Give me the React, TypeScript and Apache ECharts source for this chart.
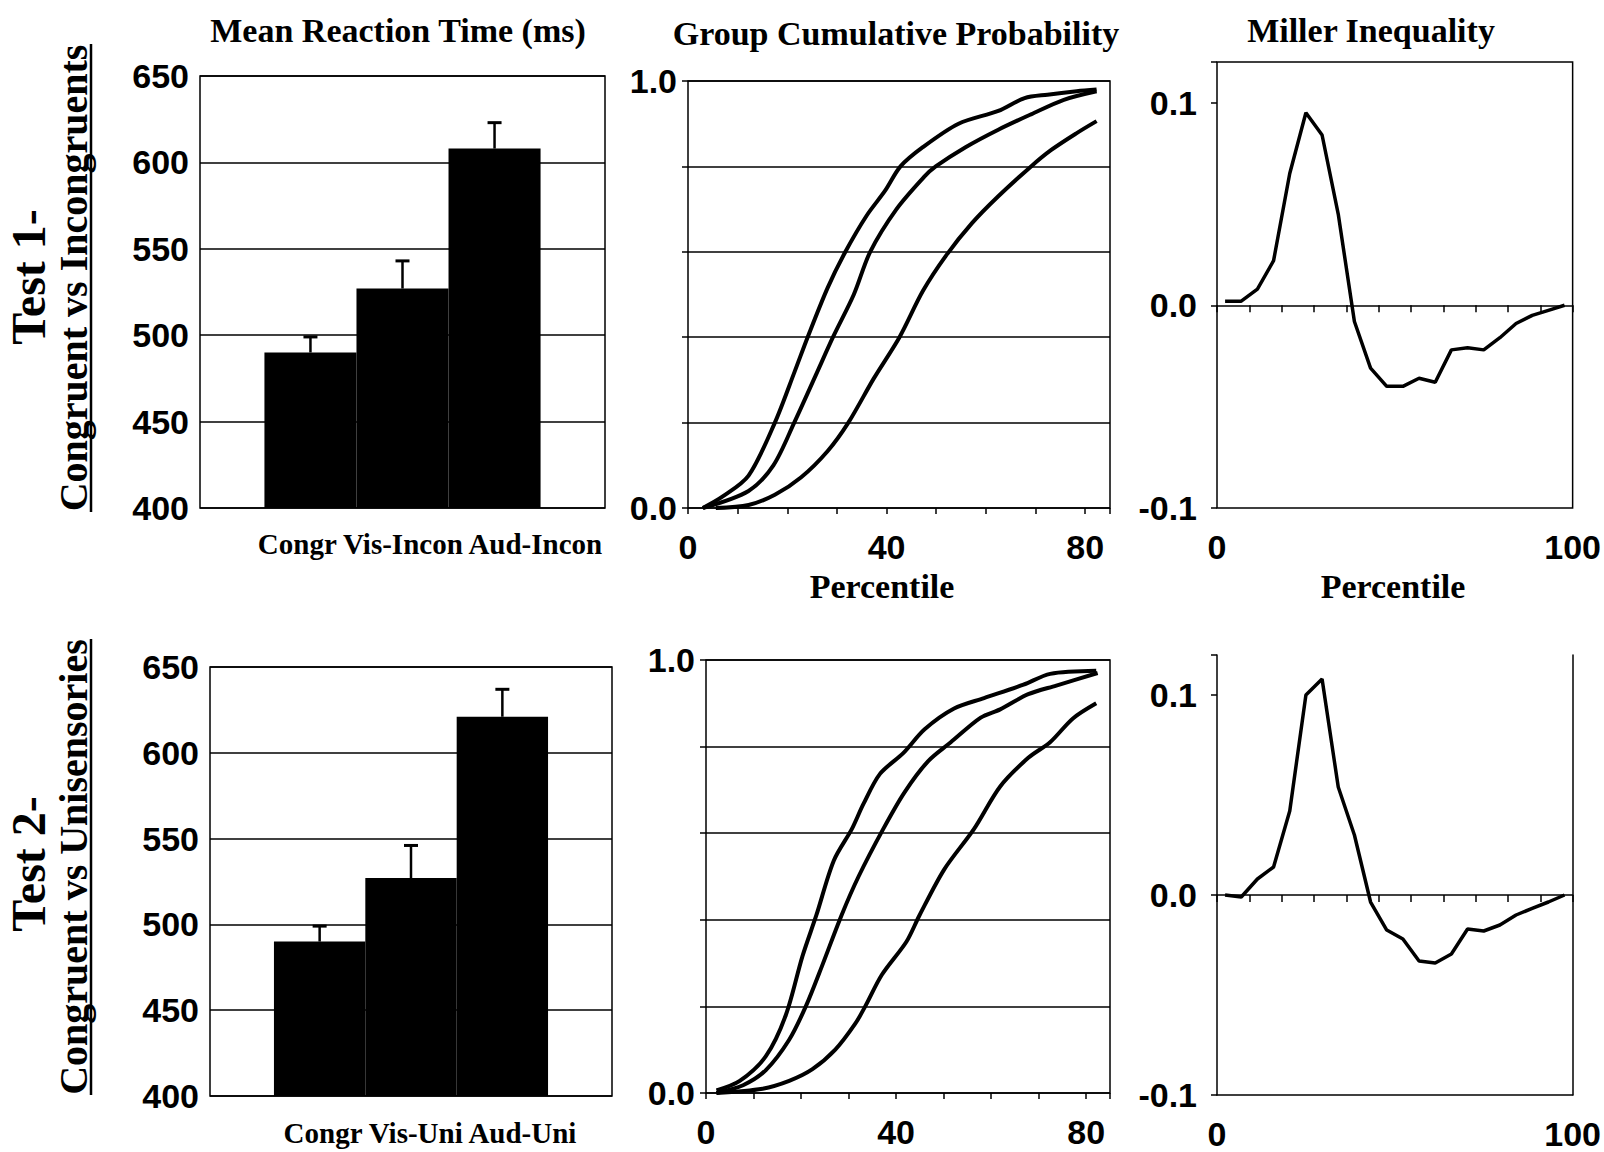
import React, { useEffect, useRef } from 'react';
import * as echarts from 'echarts';

// ---------------- data ----------------
const rtCategoriesTest1 = ['Congr', 'Vis-Incon', 'Aud-Incon'];
const rtMeansTest1 = [490, 527, 608];
const rtErrorTopTest1 = [499, 543, 623];

const rtCategoriesTest2 = ['Congr', 'Vis-Uni', 'Aud-Uni'];
const rtMeansTest2 = [490, 527, 621];
const rtErrorTopTest2 = [499, 546, 637];

const rtAxisTicks = [400, 450, 500, 550, 600, 650];

// group cumulative probability curves: [percentile, probability]
const cdfTest1Congr = [[3, 0], [7, 0.027], [12.2, 0.076], [17.5, 0.2], [21.5, 0.32], [24.1, 0.4], [28.1, 0.515], [31.7, 0.6], [36, 0.685], [39.7, 0.743], [42.8, 0.8], [47.3, 0.845], [54.5, 0.9], [62.5, 0.93], [67.8, 0.96], [72.4, 0.968], [78.3, 0.976], [82.3, 0.98]];
const cdfTest1Vis = [[3, 0], [12.2, 0.04], [17.2, 0.1], [21.4, 0.2], [25.7, 0.31], [29.2, 0.4], [33.4, 0.5], [36.7, 0.6], [42, 0.7], [47.6, 0.776], [49.9, 0.8], [55.9, 0.845], [62.5, 0.886], [69.1, 0.922], [75.7, 0.956], [82.3, 0.976]];
const cdfTest1Aud = [[5.6, 0], [12.2, 0.007], [17.5, 0.031], [22.8, 0.072], [28.1, 0.133], [32.3, 0.2], [37.4, 0.303], [42.6, 0.4], [47.3, 0.508], [51.9, 0.59], [57.2, 0.667], [62.5, 0.73], [69.1, 0.8], [73.1, 0.838], [78.3, 0.878], [82.3, 0.906]];

const cdfTest2Congr = [[2.2, 0.006], [7.1, 0.028], [12.6, 0.085], [16.8, 0.18], [20.3, 0.316], [23.2, 0.41], [26.9, 0.537], [30.7, 0.61], [33.1, 0.667], [36.6, 0.737], [41.5, 0.785], [46, 0.84], [52.2, 0.888], [58.5, 0.912], [66.8, 0.943], [72.4, 0.968], [82.1, 0.975]];
const cdfTest2Vis = [[2.2, 0], [7.8, 0.018], [12.6, 0.053], [17.5, 0.123], [21, 0.2], [24.4, 0.293], [28.5, 0.41], [32.1, 0.5], [37.3, 0.61], [41.8, 0.695], [46.7, 0.766], [51.5, 0.81], [57.8, 0.867], [61.9, 0.886], [67.8, 0.921], [73.7, 0.941], [82.4, 0.97]];
const cdfTest2Aud = [[2.2, 0], [11.9, 0.01], [17.5, 0.028], [22.4, 0.055], [27.2, 0.1], [31.4, 0.16], [33.5, 0.2], [37, 0.273], [42.2, 0.35], [44.9, 0.41], [50.1, 0.516], [56.4, 0.61], [61.9, 0.708], [67.8, 0.774], [72.4, 0.81], [77.2, 0.865], [82.1, 0.9]];

const cdfXTickLabels = [0, 40, 80];

// Miller inequality, 22 percentile bins
const millerTest1 = [0.002, 0.002, 0.008, 0.022, 0.065, 0.095, 0.084, 0.045, -0.008, -0.031, -0.04, -0.04, -0.036, -0.038, -0.022, -0.021, -0.022, -0.016, -0.009, -0.005, -0.0025, 0];
const millerTest2 = [0, -0.001, 0.008, 0.014, 0.042, 0.1, 0.108, 0.054, 0.03, -0.0035, -0.0175, -0.022, -0.033, -0.034, -0.0295, -0.017, -0.018, -0.015, -0.01, -0.0067, -0.0035, 0];
const millerXTickLabels = ['0', '100'];

// ---------------- styling ----------------
const SANS = 'Liberation Sans';
const SERIF = 'Liberation Serif';
const BLACK = '#000';
const tickFont = { fontFamily: SANS, fontWeight: 'bold' as const, fontSize: 34, color: BLACK };
const thin = { color: BLACK, width: 1.5 };

const layout = {
  bar1: { left: 200, top: 76, width: 405, height: 432 },
  cdf1: { left: 688, top: 81, width: 422, height: 427 },
  mil1: { left: 1217, top: 62, width: 366, height: 446 },
  bar2: { left: 210, top: 667, width: 402, height: 429 },
  cdf2: { left: 706, top: 660, width: 404, height: 433 },
  mil2: { left: 1217, top: 655, width: 364, height: 440 },
};

function textEl(text: string, x: number, y: number, size: number, family = SERIF, rotation = 0) {
  return {
    type: 'text',
    x,
    y,
    rotation,
    silent: true,
    style: {
      text,
      fontFamily: family,
      fontWeight: 'bold',
      fontSize: size,
      fill: BLACK,
      align: 'center',
      verticalAlign: 'middle',
      textAlign: 'center',
      textVerticalAlign: 'middle',
    },
  };
}

function lineEl(x1: number, y1: number, x2: number, y2: number, w: number) {
  return { type: 'line', silent: true, shape: { x1, y1, x2, y2 }, style: { stroke: BLACK, lineWidth: w } };
}

function buildOption() {
  const grid: any[] = [];
  const xAxis: any[] = [];
  const yAxis: any[] = [];
  const series: any[] = [];
  const graphic: any[] = [];

  const addGrid = (box: any, border: boolean) => {
    grid.push({ ...box, show: border, borderColor: BLACK, borderWidth: 1.5, backgroundColor: 'transparent' });
    return grid.length - 1;
  };

  const addBarPanel = (box: any, names: string[], means: number[], tops: number[]) => {
    const g = addGrid(box, true);
    const xi = xAxis.length;
    xAxis.push({ gridIndex: g, type: 'value', min: -0.2, max: 4.2, show: false });
    const yi = yAxis.length;
    yAxis.push({
      gridIndex: g,
      type: 'value',
      min: rtAxisTicks[0],
      max: rtAxisTicks[rtAxisTicks.length - 1],
      interval: rtAxisTicks[1] - rtAxisTicks[0],
      axisLine: { show: false, onZero: false },
      axisTick: { show: false },
      axisLabel: { ...tickFont, margin: 11 },
      splitLine: { show: true, lineStyle: thin },
    });
    series.push({
      type: 'bar',
      xAxisIndex: xi,
      yAxisIndex: yi,
      silent: true,
      barWidth: box.width / 4.4,
      itemStyle: { color: BLACK },
      data: means.map((v, i) => ({ name: names[i], value: [i + 1, v] })),
    });
    series.push({
      type: 'custom',
      xAxisIndex: xi,
      yAxisIndex: yi,
      silent: true,
      z: 5,
      data: means.map((v, i) => [i + 1, v, tops[i]]),
      renderItem: (_p: any, api: any) => {
        const x = api.value(0);
        const p0 = api.coord([x, api.value(1)]);
        const p1 = api.coord([x, api.value(2)]);
        return {
          type: 'group',
          children: [
            { type: 'line', shape: { x1: p0[0], y1: p0[1], x2: p1[0], y2: p1[1] }, style: { stroke: BLACK, lineWidth: 2.5 } },
            { type: 'line', shape: { x1: p1[0] - 7, y1: p1[1], x2: p1[0] + 7, y2: p1[1] }, style: { stroke: BLACK, lineWidth: 3 } },
          ],
        };
      },
    });
  };

  const addCdfPanel = (box: any, curves: number[][][]) => {
    const g = addGrid(box, true);
    const xi = xAxis.length;
    xAxis.push({
      gridIndex: g,
      type: 'value',
      min: 0,
      max: 85,
      interval: 10,
      axisLine: { show: false, onZero: false },
      axisTick: { show: true, length: 6, lineStyle: thin },
      axisLabel: { ...tickFont, margin: 22, formatter: (v: number) => (cdfXTickLabels.indexOf(v) >= 0 ? String(v) : '') },
      splitLine: { show: false },
    });
    const yi = yAxis.length;
    yAxis.push({
      gridIndex: g,
      type: 'value',
      min: 0,
      max: 1,
      interval: 0.2,
      axisLine: { show: false, onZero: false },
      axisTick: { show: true, length: 6, lineStyle: thin },
      axisLabel: {
        ...tickFont,
        margin: 11,
        formatter: (v: number) => (Math.abs(v) < 1e-9 || Math.abs(v - 1) < 1e-9 ? v.toFixed(1) : ''),
      },
      splitLine: { show: true, lineStyle: thin },
    });
    curves.forEach((c) => {
      series.push({
        type: 'line',
        xAxisIndex: xi,
        yAxisIndex: yi,
        silent: true,
        showSymbol: false,
        symbol: 'none',
        smooth: 0.3,
        lineStyle: { color: BLACK, width: 4 },
        data: c,
      });
    });
  };

  const addMillerPanel = (box: any, values: number[], border: boolean) => {
    const g = addGrid(box, border);
    const yi = yAxis.length;
    yAxis.push({
      gridIndex: g,
      type: 'value',
      min: -0.1,
      max: 0.12,
      interval: 0.1,
      position: 'left',
      axisLine: { show: !border, onZero: false, lineStyle: thin },
      axisTick: { show: true, length: 6, lineStyle: thin },
      axisLabel: {
        ...tickFont,
        margin: 20,
        formatter: (v: number) => {
          if (Math.abs(v - 0.12) < 1e-6) return '';
          const r = Math.round(v * 10) / 10;
          return r === 0 ? '0.0' : r.toFixed(1);
        },
      },
      splitLine: { show: false },
    });
    if (!border) {
      yAxis.push({
        gridIndex: g,
        type: 'value',
        min: -0.1,
        max: 0.12,
        position: 'right',
        axisLine: { show: true, onZero: false, lineStyle: thin },
        axisTick: { show: false },
        axisLabel: { show: false },
        splitLine: { show: false },
      });
    }
    const xa = xAxis.length;
    xAxis.push({
      gridIndex: g,
      type: 'value',
      min: 0,
      max: 22,
      interval: 2,
      position: 'bottom',
      axisLine: { show: !border, onZero: false, lineStyle: thin },
      axisTick: { show: false },
      axisLabel: {
        ...tickFont,
        margin: 22,
        formatter: (v: number) => (v === 0 ? millerXTickLabels[0] : v === 22 ? millerXTickLabels[1] : ''),
      },
      splitLine: { show: false },
    });
    xAxis.push({
      gridIndex: g,
      type: 'value',
      min: 0,
      max: 22,
      interval: 2,
      position: 'top',
      axisLine: { show: true, onZero: true, onZeroAxisIndex: yi, lineStyle: thin },
      axisTick: { show: true, inside: true, length: 7, lineStyle: thin },
      axisLabel: { show: false },
      splitLine: { show: false },
    });
    series.push({
      type: 'line',
      xAxisIndex: xa,
      yAxisIndex: yi,
      silent: true,
      showSymbol: false,
      symbol: 'none',
      lineStyle: { color: BLACK, width: 3.5 },
      data: values.map((v, i) => [i + 0.5, v]),
    });
  };

  addBarPanel(layout.bar1, rtCategoriesTest1, rtMeansTest1, rtErrorTopTest1);
  addCdfPanel(layout.cdf1, [cdfTest1Congr, cdfTest1Vis, cdfTest1Aud]);
  addMillerPanel(layout.mil1, millerTest1, true);
  addBarPanel(layout.bar2, rtCategoriesTest2, rtMeansTest2, rtErrorTopTest2);
  addCdfPanel(layout.cdf2, [cdfTest2Congr, cdfTest2Vis, cdfTest2Aud]);
  addMillerPanel(layout.mil2, millerTest2, false);

  // titles
  graphic.push(textEl('Mean Reaction Time (ms)', 398, 30, 34));
  graphic.push(textEl('Group Cumulative Probability', 896, 33, 34));
  graphic.push(textEl('Miller Inequality', 1371, 30, 34));
  // category labels
  graphic.push(textEl(rtCategoriesTest1.join(' '), 430, 544, 29));
  graphic.push(textEl(rtCategoriesTest2.join(' '), 430, 1133, 29));
  // x-axis titles
  graphic.push(textEl('Percentile', 882, 586, 34));
  graphic.push(textEl('Percentile', 1393, 586, 34));
  // row labels
  graphic.push(textEl('Test 1-', 28, 277, 48, SERIF, Math.PI / 2));
  graphic.push(textEl('Congruent vs Incongruents', 73, 278, 40, SERIF, Math.PI / 2));
  graphic.push(lineEl(91, 44, 91, 512, 2.5));
  graphic.push(textEl('Test 2-', 28, 864, 48, SERIF, Math.PI / 2));
  graphic.push(textEl('Congruent vs Unisensories', 73, 867, 40, SERIF, Math.PI / 2));
  graphic.push(lineEl(91, 639, 91, 1095, 2.5));

  return {
    animation: false,
    backgroundColor: '#fff',
    grid,
    xAxis,
    yAxis,
    series,
    graphic,
  };
}

export default function App() {
  const ref = useRef<HTMLDivElement>(null);
  useEffect(() => {
    if (!ref.current) return;
    const chart = echarts.init(ref.current, null, { renderer: 'svg' });
    chart.setOption(buildOption() as any);
    return () => chart.dispose();
  }, []);
  return (
    <div
      ref={ref}
      style={{ position: 'absolute', left: 0, top: 0, width: 1604, height: 1152, background: '#fff' }}
    />
  );
}
